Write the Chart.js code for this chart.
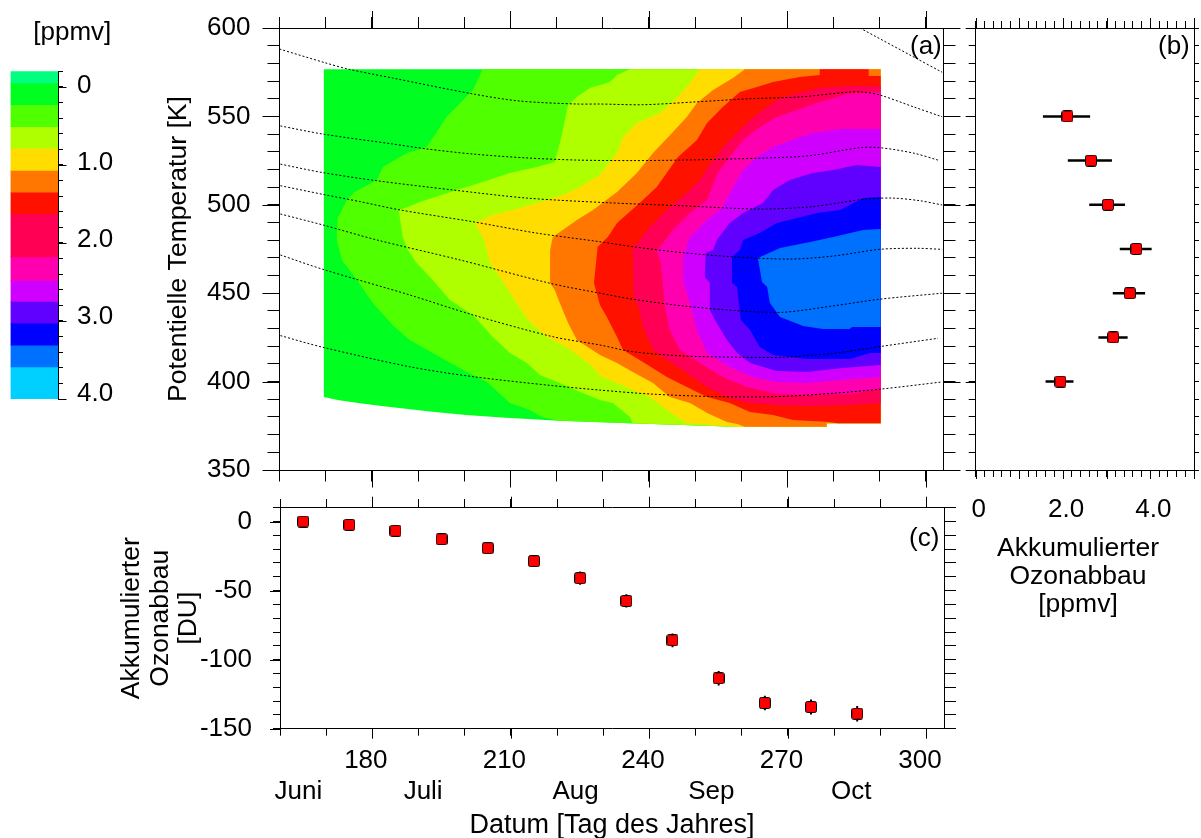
<!DOCTYPE html>
<html>
<head>
<meta charset="utf-8">
<title>Ozonabbau</title>
<script src="https://cdn.jsdelivr.net/npm/chart.js@4"></script>
<style>
  html, body { margin: 0; background: #fff; overflow: hidden; }
  body { width: 1201px; height: 838px; position: relative; font-family: "Liberation Sans", Arial, sans-serif; color: #000; }
  canvas { position: absolute; display: block; }
  .txt { position: absolute; font-size: 26px; line-height: 28px; white-space: nowrap; }
</style>
</head>
<body>
<canvas id="bar" width="134" height="420" style="left:0;top:0"></canvas>
<canvas id="main" width="815" height="490" style="left:150px;top:0"></canvas>
<canvas id="prof" width="236" height="530" style="left:965px;top:0"></canvas>
<canvas id="col" width="875" height="352" style="left:90px;top:490px"></canvas>
<div class="txt" style="left:910px;top:31px">(a)</div>
<div class="txt" style="left:1158px;top:31px">(b)</div>
<div class="txt" style="left:909px;top:523px">(c)</div>
<div class="txt" style="left:978px;top:533px;width:200px;text-align:center;font-size:26.5px">Akkumulierter<br>Ozonabbau<br>[ppmv]</div>
<script>
// colour bar [ppmv]
const barBounds = [-0.2, -0.05, 0.23, 0.51, 0.785, 1.07, 1.35, 1.63, 2.18, 2.48, 2.75, 3.03, 3.31, 3.59, 4.0];
const barColors = ['#00ff80', '#00ff20', '#50ff00', '#b0ff00', '#ffdd00', '#ff7700', '#ff1100', '#ff0055',
                   '#ff00b0', '#d000ff', '#6000ff', '#0000ff', '#0070ff', '#00d0ff'];
const barLabels = [0, 1, 2, 3, 4];

// panel (a) contour outlines, [day, theta]
const contour0 = [[169.6,576.6],[290.2,576.6],[290.2,376.4],[278.5,376.4],[278.5,374.5],[258.8,374.5],[235.9,376.4],[220.5,377.9],[209,379.6],[200.4,381.1],[193.6,382.8],[187.8,384.5],[182.1,386.2],[177.4,387.7],[172.6,389.6],[169.6,391.3]];
const contourA = [[204,576.6],[290.2,576.6],[290.2,376.4],[278.5,376.4],[278.5,374.5],[258.8,374.5],[235.9,376.4],[220.5,377.9],[216.8,380],[214.2,383.9],[209.9,387.9],[204.9,399.8],[200.6,405.4],[194.7,413.9],[188.2,423.5],[184.5,432],[180.2,444.5],[176.8,457.5],[173.5,468.8],[172.4,480.1],[172.6,492.5],[174.6,502.7],[176.3,507.2],[181.1,514],[182.4,521.4],[187.6,529.3],[191.9,532.7],[196.2,549.7],[201.9,564.9]];
const contourB = [[235.9,576.6],[290.2,576.6],[290.2,376.4],[278.5,376.4],[278.5,374.5],[258.8,374.5],[236.5,376.4],[235.9,380],[232.2,387.9],[229.4,389.6],[225.1,394.1],[220.7,399.2],[216.4,403.7],[213.6,410.5],[209.9,416.2],[206.2,425.2],[201.9,437.7],[196.9,446.2],[193.2,457.5],[189.7,467.1],[187.8,474.4],[186.7,481.8],[185.8,497.1],[187.8,498.8],[190.4,501.6],[198.4,508.4],[204,512.9],[209.9,518],[215.7,521.4],[219.6,524.2],[220.5,532.7],[221.6,545.1],[222.5,556.4],[224.4,561],[227.2,566.1],[231.6,569.5],[233.1,573.4]];
const contourC = [[251,576.6],[290.2,576.6],[290.2,376.4],[278.5,376.4],[278.5,374.5],[258.8,374.5],[248.2,376.4],[243.9,383.9],[240.2,391.3],[236.5,395.2],[233.1,399.2],[229.4,403.2],[227.9,408.3],[222.5,419],[217.9,425.2],[213.8,434.8],[210.5,447.9],[207.7,459.2],[205.6,467.1],[204.3,480.1],[202.3,489.7],[206.2,494.2],[212.1,498.2],[217.9,502.7],[221.4,505.5],[225.1,510.1],[229.4,516.9],[233.1,529.3],[234.4,538.3],[237.4,546.3],[242.4,551.9],[245.6,559.3],[248.9,568.9]];
const contourD = [[260.8,576.6],[290.2,576.6],[290.2,376.4],[278.5,376.4],[278.5,374.5],[260.8,374.5],[259.1,376],[256.9,377.2],[252.6,382.2],[248.9,387.9],[244.5,391.3],[240.9,399.2],[236.5,405.4],[233.1,410.5],[229.4,415],[224.4,423.5],[222.5,433.1],[220.7,444.5],[219.6,451.8],[218.6,455.8],[218.6,474.4],[219.2,481.8],[224.4,491.4],[227.9,497.1],[233.1,507.2],[237.4,518],[240.9,529.3],[245,540.6],[248.2,549.7],[250.4,557.6],[253.9,564.9],[258.2,571.7]];
const contourE = [[277,576.6],[287.6,576.6],[287.6,572.9],[290.2,572.9],[290.2,376.4],[280.9,376.4],[279.2,377.2],[271.2,378.3],[266.9,381.1],[261.9,382.8],[257.5,387.9],[252.6,391.3],[248.2,396.9],[243.9,402.6],[238.7,411.1],[234.4,417.9],[233.1,425.2],[230.9,436.5],[229.4,443.3],[228.1,455.8],[228.9,476.1],[231.1,481.8],[233.1,489.7],[238,501],[241.7,510.1],[246.3,527],[250.4,536.7],[252.6,546.3],[256,555.3],[259.7,563.8],[263.4,566.6],[266.9,569.5],[272.7,572.3],[277,573.4]];
const contourF = [[290.2,387.9],[284.2,386.8],[274.2,386.2],[267.7,386.8],[261.9,387.9],[256.9,391.3],[252.6,396.9],[248.2,404.9],[243.9,412.2],[240.9,417.9],[238.7,430.9],[237.8,442.2],[236.7,447.9],[236.5,476.1],[237.6,478.4],[240.2,487.4],[243.9,497.1],[248.2,506.7],[251,514],[253.9,525.3],[256.9,535],[259.7,542.3],[261.9,548],[265.6,555.3],[268.4,560.4],[272.7,563.2],[277,566.1],[283.5,567.2],[290.2,567.2]];
const contourG = [[290.2,395.8],[283.5,393],[274.2,392.4],[267.7,393],[261.2,396.9],[256,402.6],[251,410.5],[246.7,417.9],[244.5,429.2],[243.5,442.2],[242.6,467.1],[241.7,474.4],[242.4,476.1],[245.2,485.7],[248.9,495.4],[252.6,502.7],[254.9,518],[257.5,527],[260.4,536.7],[264,544],[267.7,549.7],[272.1,553.6],[276.4,557.6],[282.9,562.7],[290.2,563.8]];
const contourH = [[290.2,402.6],[281.4,400.9],[274.2,399.2],[267.7,399.8],[262.5,402.6],[257.5,408.3],[252.6,416.2],[250.4,429.2],[249.3,440.5],[247.4,457.5],[247.4,470.5],[248.9,481.8],[252.6,491.4],[256,498.8],[258.2,510.1],[260.4,519.7],[263.4,527],[266.9,532.7],[272.1,537.8],[275.5,540.6],[281.4,542.9],[290.2,542.9]];
const contourI = [[290.2,409.4],[282,407.7],[274.2,405.4],[267.7,406],[261.9,410.5],[259.1,416.2],[256.9,423.5],[254.3,434.8],[253.2,440.5],[253.2,455.8],[252.1,459.2],[252.3,472.7],[253.9,474.4],[254.7,480.1],[257.5,489.7],[260.4,495.4],[264.7,501],[266.9,508.4],[270.5,514],[275.5,518],[279.9,519.7],[285,522.5],[290.2,521.4]];
const contourJ = [[290.2,416.2],[287.9,416.2],[283.5,412.8],[274.2,412.8],[266.9,415],[264,419.6],[261.9,429.2],[259.9,434.8],[259.1,453.5],[258,455.8],[258,470.5],[259.7,474.4],[260.4,480.1],[264,484.1],[267.7,489.7],[272.1,492.5],[276.4,495.4],[281.4,497.1],[286.4,503.8],[290.2,504.4]];
const contourK = [[290.2,430.9],[284,430.9],[283.5,429.8],[277.7,429.8],[273.4,431.5],[268.4,436.5],[266.2,444.5],[265.6,453.5],[264.5,456.3],[263.6,469.9],[268.4,475.6],[274.9,479],[279.9,481.8],[286.4,485.7],[290.2,486.3]];
const contours = [contour0, contourA, contourB, contourC, contourD, contourE, contourF, contourG, contourH, contourI, contourJ, contourK];
const contourColors = ['#00ff20', '#50ff00', '#b0ff00', '#ffdd00', '#ff7700', '#ff1100', '#ff0055', '#ff00b0', '#d000ff', '#6000ff', '#0000ff', '#0070ff'];

// panel (a) dashed isolines, [day, theta]
const iso1 = [[160,588.1],[169.8,580.4],[174.8,576.8],[184.5,571.7],[201.9,562.7],[212,558.7],[224.4,557],[229.4,557],[238.7,556.6],[249.5,558.1],[261.9,560],[272.7,561],[283.5,563.8],[286.3,563.8],[290,562.1],[297.2,555.5],[303.5,549.8]];
const iso2 = [[160.2,544.6],[169.4,540],[184.5,534.4],[191.9,531.6],[201.9,528.7],[213.6,526.5],[224.4,525.3],[236.5,525],[247.4,525.3],[265.6,526.5],[274.9,527.8],[285.7,532.3],[290,532.3],[297.2,529.3],[302.6,525.3]];
const iso3 = [[160.2,523],[169.4,518.2],[181.1,513.6],[197.5,508.4],[213.6,503.8],[230.9,501.2],[246.7,499.5],[264,497.6],[274.9,498.8],[281.4,501.2],[287.2,503.3],[292.8,503.8],[298.7,502.3],[303.5,499.9]];
const iso4 = [[160.2,510.8],[169.4,505.9],[177.4,501.8],[186.1,497.1],[201.9,490.4],[215.7,484],[229.4,479.1],[236.5,476.3],[247.4,472.9],[258.2,470.6],[270.5,469.3],[279.9,471],[290,474.8],[298,475.4],[303.5,474.8]];
const iso5 = [[160.2,494.8],[169.4,488.6],[181.1,480.1],[199.1,468.8],[218.6,455.6],[229.4,450],[236.5,446.6],[247.4,442.8],[259.7,440],[269,439.2],[279.9,442.8],[290,446.6],[303.5,450]];
const iso6 = [[160.2,471.6],[169.4,463.5],[188.2,449],[201.9,437.7],[219.2,425.4],[229.4,420.7],[236.5,416.9],[247.4,414.5],[259.7,413.8],[269,413.8],[279.9,416],[290,419.8],[302.6,424.5]];
const iso7 = [[160.2,426],[169.4,419.4],[188.2,408.4],[201.9,402.8],[219.2,397.7],[229.4,395.2],[240.2,393],[254.7,391.5],[267.7,391.5],[279.9,393.4],[290,395.7],[303.5,399.8]];
const iso8 = [[285.7,600],[297.2,583.8],[303.5,575]];
const isolines = [iso1, iso2, iso3, iso4, iso5, iso6, iso7, iso8];

// panel (b) accumulated loss per level
const profTheta = [550, 525, 500, 475, 450, 425, 400];
const profLoss = [2.1, 2.64, 3.03, 3.68, 3.53, 3.15, 1.94];
const profLow = [1.54, 2.11, 2.6, 3.3, 3.14, 2.81, 1.6];
const profHigh = [2.62, 3.12, 3.42, 4.03, 3.88, 3.48, 2.24];

// panel (c) column loss
const colDays = [165, 175, 185, 195, 205, 215, 225, 235, 245, 255, 265, 275, 285];
const colLoss = [0, -2.4, -6.7, -12.8, -19.3, -28.7, -41, -57.5, -86, -113.5, -131.4, -134.3, -139.1];
const colErr = [0, 1, 2, 3, 3.5, 4, 4.8, 4.8, 5, 5.3, 5.3, 5.4, 5.6];

const monthDays = [164, 191, 224, 253.4, 283.7];
const monthLabels = ['Juni', 'Juli', 'Aug', 'Sep', 'Oct'];

Chart.defaults.font.family = '"Liberation Sans", Arial, sans-serif';
Chart.defaults.font.size = 26;
Chart.defaults.color = '#000';
Chart.defaults.animation = false;
Chart.defaults.responsive = false;
Chart.defaults.events = [];
Chart.defaults.devicePixelRatio = 1;
Chart.defaults.plugins.legend.display = false;
Chart.defaults.plugins.tooltip.enabled = false;

const isMult = (v, step) => Math.abs(v / step - Math.round(v / step)) < 1e-6;

// fixed axis size, and no label overhang so the plot area lands where it should
function fixSize(s, size) {
    if (s.isHorizontal()) s.height = size; else s.width = size;
    s.paddingTop = s.paddingBottom = s.paddingLeft = s.paddingRight = 0;
}

// Chart.js has one tickLength per axis, so the long ticks get drawn on top
const longTicks = {
    id: 'longTicks',
    afterDraw(chart) {
        const ctx = chart.ctx;
        ctx.save();
        ctx.strokeStyle = '#000';
        ctx.lineWidth = 1;
        Object.values(chart.scales).forEach(s => {
            const o = s.options.longTick;
            if (!o) return;
            s.ticks.forEach(t => {
                if (!isMult(t.value, o.every)) return;
                const p = Math.round(s.getPixelForValue(t.value)) + 0.5;
                ctx.beginPath();
                if (s.position === 'left') { ctx.moveTo(s.right, p); ctx.lineTo(s.right - o.length, p); }
                if (s.position === 'right') { ctx.moveTo(s.left, p); ctx.lineTo(s.left + o.length, p); }
                if (s.position === 'top') { ctx.moveTo(p, s.bottom); ctx.lineTo(p, s.bottom - o.length); }
                if (s.position === 'bottom') { ctx.moveTo(p, s.top); ctx.lineTo(p, s.top + o.length); }
                ctx.stroke();
            });
        });
        ctx.restore();
    }
};

function axis(position, size, min, max, step, tickLength, extra) {
    return Object.assign({
        position, min, max,
        afterFit: s => fixSize(s, size),
        border: { color: '#000', width: 1 },
        grid: { drawOnChartArea: false, color: '#000', tickLength },
        ticks: { stepSize: step, autoSkip: false, includeBounds: false, maxRotation: 0, display: false }
    }, extra || {});
}

function marker(size) {
    const c = document.createElement('canvas');
    c.width = c.height = size;
    const g = c.getContext('2d');
    g.beginPath();
    g.roundRect(0.5, 0.5, size - 1, size - 1, 2);
    g.fillStyle = '#ff0000';
    g.fill();
    g.strokeStyle = '#000';
    g.lineWidth = 1;
    g.stroke();
    return c;
}

// colour bar
new Chart(document.getElementById('bar'), {
    type: 'bar',
    data: {
        labels: [''],
        datasets: barColors.map((color, i) => ({
            data: [[barBounds[i], barBounds[i + 1]]],
            backgroundColor: color,
            barPercentage: 1,
            categoryPercentage: 1,
            grouped: false,
            yAxisID: 'y'
        }))
    },
    options: {
        layout: { padding: { left: 10.5, bottom: 21 } },
        plugins: {
            title: { display: true, text: '[ppmv]', font: { size: 26, weight: 'normal' }, padding: { top: 17, bottom: 23 }, color: '#000' }
        },
        scales: {
            x: { display: false },
            y: axis('right', 8, -0.2, 4.0, 0.2, 5, {
                reverse: true,
                longTick: { every: 1, length: 8.5 },
                weight: 0
            }),
            yLabels: {
                position: 'right', min: -0.193, max: 4.07, reverse: true, weight: 1,
                afterFit: s => fixSize(s, 68),
                afterBuildTicks: s => { s.ticks = barLabels.map(v => ({ value: v })); },
                border: { display: false },
                grid: { display: false, drawTicks: false },
                ticks: {
                    autoSkip: false, padding: 11, crossAlign: 'near',
                    callback: v => v === 0 ? '0' : v.toFixed(1)
                }
            }
        }
    },
    plugins: [longTicks]
});

// panel (a)
const areaSets = contours.map((pts, i) => ({
    data: pts.map(p => ({ x: p[0], y: p[1] })),
    showLine: true,
    pointRadius: 0,
    borderWidth: 0,
    tension: 0,
    fill: 'shape',
    backgroundColor: contourColors[i],
    order: 100 - i
}));
const isoSets = isolines.map(pts => ({
    data: pts.map(p => ({ x: p[0], y: p[1] })),
    showLine: true,
    pointRadius: 0,
    borderWidth: 1,
    borderColor: '#000',
    borderDash: [2, 2],
    tension: 0.3,
    fill: false,
    order: 1
}));

const dayMin = 160, dayMax = 303.8;

new Chart(document.getElementById('main'), {
    type: 'scatter',
    data: { datasets: areaSets.concat(isoSets) },
    options: {
        scales: {
            x: axis('bottom', 20, dayMin, dayMax, 10, 11.5, { longTick: { every: 30, length: 17.5 } }),
            xTop: axis('top', 28, dayMin, dayMax, 10, 11, { longTick: { every: 30, length: 17 } }),
            y: axis('left', 129.5, 350, 600, 10, 12, {
                longTick: { every: 50, length: 17 },
                title: { display: true, text: 'Potentielle Temperatur [K]', font: { size: 26.6 }, padding: { top: 13 } },
                ticks: {
                    stepSize: 10, autoSkip: false, includeBounds: false, padding: 17,
                    callback: v => isMult(v, 50) ? String(v) : ''
                }
            }),
            yRight: axis('right', 21.5, 350, 600, 10, 12, { longTick: { every: 50, length: 17 } })
        }
    },
    plugins: [longTicks]
});

// panel (b)
const profBars = profTheta.map((t, i) => ({
    data: [{ x: profLow[i], y: t }, { x: profHigh[i], y: t }],
    showLine: true,
    pointRadius: 0,
    borderColor: '#000',
    borderWidth: 2.5,
    order: 2
}));

new Chart(document.getElementById('prof'), {
    type: 'scatter',
    data: {
        datasets: [{
            data: profLoss.map((v, i) => ({ x: v, y: profTheta[i] })),
            pointStyle: marker(12),
            pointRadius: 6,
            order: 0
        }].concat(profBars)
    },
    options: {
        scales: {
            x: axis('bottom', 60, 0, 5, 0.2, 7, {
                longTick: { every: 1, length: 9 },
                ticks: {
                    stepSize: 0.2, autoSkip: false, includeBounds: false, maxRotation: 0, padding: 17, labelOffset: 3,
                    callback: v => isMult(v, 2) ? (Math.abs(v) < 1e-6 ? '0' : v.toFixed(1)) : ''
                }
            }),
            xTop: axis('top', 28, 0, 5, 0.2, 7, { longTick: { every: 1, length: 10 } }),
            y: axis('left', 10.7, 350, 600, 10, 7, { longTick: { every: 50, length: 10 } }),
            yRight: axis('right', 4.3, 350, 600, 10, 5)
        }
    },
    plugins: [longTicks]
});

// panel (c)
const colBars = colDays.map((d, i) => ({
    data: [{ x: d, y: colLoss[i] - colErr[i] }, { x: d, y: colLoss[i] + colErr[i] }],
    showLine: true,
    pointRadius: 0,
    borderColor: '#000',
    borderWidth: 2,
    order: 2
}));

new Chart(document.getElementById('col'), {
    type: 'scatter',
    data: {
        datasets: [{
            data: colDays.map((d, i) => ({ x: d, y: colLoss[i] })),
            pointStyle: marker(12),
            pointRadius: 6,
            order: 0
        }].concat(colBars)
    },
    options: {
        scales: {
            x: axis('bottom', 48, dayMin, dayMax, 10, 7, {
                weight: 0,
                longTick: { every: 30, length: 10 },
                ticks: {
                    stepSize: 10, autoSkip: false, includeBounds: false, maxRotation: 0, padding: 10, labelOffset: -6.5,
                    callback: v => isMult(v, 30) && v > 160 ? String(v) : ''
                }
            }),
            xMonths: {
                position: 'bottom', weight: 1, min: dayMin, max: dayMax,
                afterFit: s => fixSize(s, 65.3),
                afterBuildTicks: s => { s.ticks = monthDays.map(v => ({ value: v })); },
                border: { display: false },
                grid: { display: false, drawTicks: false },
                ticks: {
                    autoSkip: false, maxRotation: 0, padding: 0,
                    callback: (v, i) => monthLabels[i]
                },
                title: { display: true, text: 'Datum [Tag des Jahres]', font: { size: 27 }, padding: { bottom: 0 } }
            },
            xTop: axis('top', 17.7, dayMin, dayMax, 10, 8.7, { longTick: { every: 30, length: 11 } }),
            y: axis('left', 190, -150, 10, 10, 7, {
                longTick: { every: 50, length: 10 },
                title: { display: true, text: ['Akkumulierter', 'Ozonabbau', '[DU]'], padding: { top: 28 }, font: { size: 26.5, lineHeight: 1.07 } },
                ticks: {
                    stepSize: 10, autoSkip: false, includeBounds: false, padding: 21,
                    callback: v => isMult(v, 50) ? String(v) : ''
                }
            }),
            yRight: axis('right', 21, -150, 10, 10, 12)
        }
    },
    plugins: [longTicks]
});
</script>
</body>
</html>
